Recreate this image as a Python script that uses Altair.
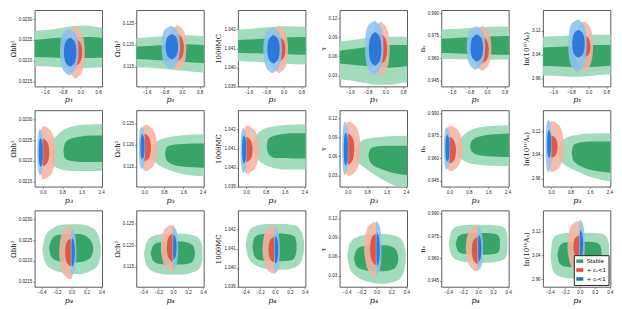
import altair as alt
import pandas as pd

# ---------------- axes ----------------
ROW_XLABEL = ["p₁", "p₃", "p₄"]
ROW_XDOMAIN = [[-2.06, 0.99], [-0.33, 2.45], [-0.49, 0.41]]
ROW_XTICKS = [[-1.6, -0.8, 0.0, 0.8], [0.0, 0.8, 1.6, 2.4], [-0.4, -0.2, 0.0, 0.2, 0.4]]

COL_YLABEL = ["Ωbh²", "Ωch²", "100θMC", "τ", "nₛ", "ln(10¹⁰Aₛ)"]
COL_YDOMAIN = [[0.02137, 0.02322], [0.1103, 0.1280], [1.0390, 1.0430],
               [0.012, 0.133], [0.941, 0.992], [2.934, 3.189]]
COL_YTICKS = [[0.0215, 0.0220, 0.0225, 0.0230], [0.115, 0.120, 0.125],
              [1.039, 1.040, 1.041, 1.042], [0.03, 0.06, 0.09, 0.12],
              [0.945, 0.960, 0.975, 0.990], [2.96, 3.04, 3.12]]
COL_YFORMAT = [".4f", ".3f", ".3f", ".2f", ".3f", ".2f"]

LEGEND_LABELS = ["Stable", "+ cₛ<1", "+ cₜ<1"]

# ---------------- blob contours (cs<1 red, cT<1 blue) ----------------
# relative heights of the levels along each blob (bottom -> top)
T_LEVELS = [0, 0.1, 0.3, 0.5, 0.7, 0.9, 1]

# vertical extent of each blob, per column (lo, hi)
BLUE_OUT_Y = [(0.02164, 0.02278), (0.1143, 0.1244), (1.0397, 1.0421), (0.0295, 0.1162), (0.9520, 0.9813), (2.981, 3.159)]
BLUE_IN_Y = [(0.02185, 0.02256), (0.1166, 0.1225), (1.0402, 1.0417), (0.0448, 0.0983), (0.9576, 0.9759), (3.030, 3.124)]
RED_OUT_Y = [(0.02156, 0.02283), (0.1140, 0.1246), (1.0397, 1.0422), (0.0295, 0.1146), (0.9516, 0.9817), (2.984, 3.153)]
RED_IN_Y = [(0.02187, 0.02253), (0.1162, 0.1225), (1.0403, 1.0416), (0.0473, 0.0958), (0.9565, 0.9742), (3.030, 3.105)]

# left / right edge of each blob at the levels, per row
BLUE_OUT_X = [
    ([-0.52, -0.76, -0.89, -0.92, -0.90, -0.80, -0.48], [-0.52, -0.26, -0.12, -0.08, -0.10, -0.22, -0.48]),
    ([-0.12, -0.19, -0.22, -0.23, -0.22, -0.19, -0.12], [-0.12, -0.02, 0.02, 0.03, 0.02, -0.02, -0.12]),
    ([0.0, -0.006, -0.01, -0.01, -0.01, -0.006, 0.0], [0.005, 0.045, 0.062, 0.067, 0.062, 0.045, 0.005]),
]
BLUE_IN_X = [
    ([-0.46, -0.63, -0.72, -0.74, -0.72, -0.63, -0.46], [-0.46, -0.29, -0.20, -0.18, -0.20, -0.29, -0.46]),
    ([-0.10, -0.14, -0.16, -0.165, -0.16, -0.14, -0.10], [-0.10, -0.03, 0.0, 0.005, 0.0, -0.03, -0.10]),
    ([0.008, 0.003, 0.0, 0.0, 0.0, 0.003, 0.008], [0.008, 0.03, 0.041, 0.045, 0.041, 0.03, 0.008]),
]
RED_OUT_X = [
    ([-0.21, -0.46, -0.59, -0.62, -0.59, -0.46, -0.21], [-0.21, 0.04, 0.17, 0.20, 0.17, 0.04, -0.21]),
    ([-0.02, -0.08, -0.10, -0.10, -0.10, -0.08, -0.02], [0.12, 0.36, 0.49, 0.52, 0.49, 0.36, 0.12]),
    ([-0.04, -0.11, -0.15, -0.165, -0.155, -0.12, -0.04], [0.0, 0.018, 0.024, 0.025, 0.024, 0.018, 0.0]),
]
RED_IN_X = [
    ([-0.21, -0.38, -0.48, -0.50, -0.48, -0.38, -0.21], [-0.21, -0.04, 0.06, 0.08, 0.06, -0.04, -0.21]),
    ([0.0, -0.05, -0.07, -0.07, -0.07, -0.05, 0.0], [0.04, 0.17, 0.25, 0.27, 0.25, 0.17, 0.04]),
    ([-0.02, -0.055, -0.078, -0.085, -0.08, -0.06, -0.02], [0.0, 0.01, 0.014, 0.015, 0.014, 0.01, 0.0]),
]

# ---------------- "Stable" (green) contours ----------------
GX_OUT = [
    [-2.2, -1.6, -1.0, -0.4, 0.2, 0.8, 1.1],
    [0.28, 0.33, 0.45, 0.7, 1.1, 1.7, 2.6],
    [-0.39, -0.36, -0.28, -0.1, 0.1, 0.28, 0.36, 0.39],
]
GX_IN = [
    [-2.2, -1.6, -1.0, -0.4, 0.2, 0.8, 1.1],
    [0.85, 0.9, 1.02, 1.25, 1.6, 2.0, 2.6],
    [-0.30, -0.27, -0.2, -0.05, 0.1, 0.22, 0.27, 0.29],
]

GREEN_OUT_LO_R1 = [
    [0.02187, 0.02186, 0.02184, 0.02183, 0.02182, 0.02183, 0.02184],
    [0.1148, 0.1147, 0.1145, 0.1142, 0.1139, 0.1136, 0.1135],
    [1.04034, 1.04032, 1.04028, 1.04024, 1.04020, 1.04016, 1.04015],
    [0.024, 0.022, 0.018, 0.015, 0.015, 0.018, 0.019],
    [0.9595, 0.9594, 0.9592, 0.9590, 0.9590, 0.9591, 0.9592],
    [2.971, 2.970, 2.968, 2.967, 2.970, 2.974, 2.976],
]
GREEN_OUT_HI_R1 = [
    [0.02272, 0.02274, 0.02278, 0.02283, 0.02285, 0.02281, 0.02280],
    [0.1215, 0.1217, 0.1219, 0.1221, 0.1222, 0.1220, 0.1219],
    [1.04198, 1.04202, 1.04208, 1.04214, 1.04216, 1.04214, 1.04213],
    [0.083, 0.085, 0.088, 0.090, 0.091, 0.091, 0.090],
    [0.9790, 0.9794, 0.9800, 0.9806, 0.9810, 0.9812, 0.9812],
    [3.100, 3.102, 3.104, 3.106, 3.107, 3.107, 3.107],
]
GREEN_IN_LO_R1 = [
    [0.02209, 0.02208, 0.02207, 0.02206, 0.02206, 0.02207, 0.02208],
    [0.1167, 0.1166, 0.1164, 0.1162, 0.1160, 0.1158, 0.1157],
    [1.04076, 1.04075, 1.04073, 1.04071, 1.04069, 1.04067, 1.04066],
    [0.049, 0.047, 0.045, 0.043, 0.042, 0.044, 0.045],
    [0.9634, 0.9632, 0.9630, 0.9627, 0.9625, 0.9623, 0.9623],
    [3.003, 3.002, 3.000, 2.998, 3.000, 3.003, 3.004],
]
GREEN_IN_HI_R1 = [
    [0.02250, 0.02252, 0.02255, 0.02256, 0.02257, 0.02256, 0.02255],
    [0.1195, 0.1197, 0.1199, 0.1200, 0.1201, 0.1200, 0.1199],
    [1.04143, 1.04146, 1.04150, 1.04155, 1.04158, 1.04160, 1.04160],
    [0.068, 0.071, 0.074, 0.077, 0.078, 0.078, 0.077],
    [0.9730, 0.9733, 0.9737, 0.9742, 0.9745, 0.9747, 0.9748],
    [3.064, 3.066, 3.068, 3.071, 3.073, 3.073, 3.073],
]

GREEN_OUT_LO_R2 = [
    [0.02218, 0.02198, 0.02188, 0.02180, 0.02176, 0.02175, 0.02176],
    [0.1183, 0.1170, 0.1160, 0.1150, 0.1140, 0.1131, 0.1127],
    [1.04115, 1.0408, 1.0405, 1.0402, 1.0400, 1.0399, 1.0399],
    [0.066, 0.057, 0.050, 0.042, 0.031, 0.018, 0.005],
    [0.9662, 0.9625, 0.9600, 0.9575, 0.9558, 0.9550, 0.9548],
    [3.051, 3.028, 3.015, 3.000, 2.985, 2.965, 2.950],
]
GREEN_OUT_HI_R2 = [
    [0.02218, 0.02238, 0.02252, 0.02268, 0.02281, 0.02287, 0.02289],
    [0.1183, 0.1195, 0.1205, 0.1213, 0.1219, 0.1223, 0.1225],
    [1.04115, 1.0415, 1.04175, 1.0420, 1.04215, 1.04225, 1.04228],
    [0.066, 0.075, 0.081, 0.087, 0.090, 0.092, 0.093],
    [0.9662, 0.9700, 0.9730, 0.9770, 0.9800, 0.9815, 0.9822],
    [3.051, 3.075, 3.088, 3.100, 3.108, 3.112, 3.113],
]
GREEN_IN_LO_R2 = [
    [0.02225, 0.02208, 0.02202, 0.02199, 0.02197, 0.02197, 0.02197],
    [0.1180, 0.1166, 0.1159, 0.1153, 0.1150, 0.1148, 0.1147],
    [1.0411, 1.0408, 1.0406, 1.0405, 1.0405, 1.04048, 1.04048],
    [0.062, 0.053, 0.047, 0.042, 0.037, 0.033, 0.030],
    [0.9680, 0.9650, 0.9632, 0.9620, 0.9613, 0.9610, 0.9608],
    [3.048, 3.025, 3.013, 3.002, 2.992, 2.985, 2.980],
]
GREEN_IN_HI_R2 = [
    [0.02225, 0.02240, 0.02249, 0.02255, 0.02259, 0.02261, 0.02261],
    [0.1180, 0.1193, 0.1198, 0.1201, 0.1202, 0.1203, 0.1203],
    [1.0411, 1.04145, 1.0416, 1.0417, 1.04178, 1.0418, 1.0418],
    [0.062, 0.070, 0.074, 0.076, 0.077, 0.077, 0.077],
    [0.9680, 0.9710, 0.9730, 0.9745, 0.9757, 0.9763, 0.9766],
    [3.048, 3.070, 3.078, 3.083, 3.085, 3.085, 3.085],
]

GREEN_OUT_LO_R3 = [
    [0.02227, 0.02200, 0.02182, 0.02171, 0.02168, 0.02178, 0.02192, 0.02215],
    [0.1180, 0.1155, 0.1140, 0.1132, 0.1131, 0.1138, 0.1148, 0.1165],
    [1.0412, 1.0406, 1.0402, 1.03995, 1.0399, 1.04005, 1.0404, 1.0409],
    [0.062, 0.042, 0.030, 0.020, 0.017, 0.022, 0.035, 0.052],
    [0.9701, 0.9625, 0.9590, 0.9573, 0.9572, 0.9582, 0.9600, 0.9640],
    [3.036, 2.990, 2.970, 2.962, 2.961, 2.966, 2.978, 3.000],
]
GREEN_OUT_HI_R3 = [
    [0.02227, 0.02255, 0.02276, 0.02288, 0.02289, 0.02280, 0.02262, 0.02235],
    [0.1180, 0.1205, 0.1220, 0.1226, 0.1226, 0.1222, 0.1212, 0.1195],
    [1.0412, 1.0418, 1.04215, 1.0423, 1.0423, 1.0422, 1.04185, 1.0414],
    [0.062, 0.080, 0.090, 0.095, 0.096, 0.092, 0.082, 0.066],
    [0.9701, 0.9780, 0.9815, 0.9826, 0.9826, 0.9818, 0.9800, 0.9760],
    [3.036, 3.095, 3.110, 3.115, 3.115, 3.112, 3.100, 3.075],
]
GREEN_IN_LO_R3 = [
    [0.02231, 0.02210, 0.02201, 0.02196, 0.02197, 0.02203, 0.02212, 0.02226],
    [0.1181, 0.1164, 0.1157, 0.1155, 0.1155, 0.1158, 0.1165, 0.1177],
    [1.0411, 1.0406, 1.0404, 1.04035, 1.04035, 1.0404, 1.0406, 1.0409],
    [0.058, 0.045, 0.040, 0.037, 0.037, 0.040, 0.046, 0.054],
    [0.9700, 0.9650, 0.9632, 0.9625, 0.9625, 0.9630, 0.9642, 0.9665],
    [3.040, 3.012, 3.002, 2.999, 2.999, 3.002, 3.010, 3.025],
]
GREEN_IN_HI_R3 = [
    [0.02231, 0.02250, 0.02262, 0.02266, 0.02265, 0.02256, 0.02245, 0.02232],
    [0.1181, 0.1198, 0.1206, 0.1208, 0.1208, 0.1204, 0.1197, 0.1185],
    [1.0411, 1.0416, 1.04175, 1.0418, 1.0418, 1.04172, 1.0416, 1.0413],
    [0.058, 0.070, 0.076, 0.078, 0.078, 0.075, 0.069, 0.060],
    [0.9700, 0.9745, 0.9764, 0.9770, 0.9770, 0.9765, 0.9752, 0.9730],
    [3.040, 3.070, 3.082, 3.085, 3.085, 3.082, 3.073, 3.055],
]

GREEN_OUT_LO = [GREEN_OUT_LO_R1, GREEN_OUT_LO_R2, GREEN_OUT_LO_R3]
GREEN_OUT_HI = [GREEN_OUT_HI_R1, GREEN_OUT_HI_R2, GREEN_OUT_HI_R3]
GREEN_IN_LO = [GREEN_IN_LO_R1, GREEN_IN_LO_R2, GREEN_IN_LO_R3]
GREEN_IN_HI = [GREEN_IN_HI_R1, GREEN_IN_HI_R2, GREEN_IN_HI_R3]

# ---------------- styling ----------------
GREEN_LIGHT, GREEN_DARK = "#a3dbbd", "#38a468"
RED_LIGHT, RED_DARK = "#f5b3a0", "#de4a39"
BLUE_LIGHT, BLUE_DARK = "#8cc3ee", "#1f6ed8"
W, H = 68, 77


def panel(r, c):
    xs = alt.Scale(domain=ROW_XDOMAIN[r], nice=False, zero=False)
    ys = alt.Scale(domain=COL_YDOMAIN[c], nice=False, zero=False)
    xa = alt.Axis(values=ROW_XTICKS[r], format=".1f", title=ROW_XLABEL[r],
                  titleFontStyle="italic", titleFontSize=8)
    ya = alt.Axis(values=COL_YTICKS[c], format=COL_YFORMAT[c], title=COL_YLABEL[c])
    layers = []
    for gx, lo, hi, color in [
        (GX_OUT[r], GREEN_OUT_LO[r][c], GREEN_OUT_HI[r][c], GREEN_LIGHT),
        (GX_IN[r], GREEN_IN_LO[r][c], GREEN_IN_HI[r][c], GREEN_DARK),
    ]:
        df = pd.DataFrame({"gx": gx, "lo": lo, "hi": hi})
        layers.append(
            alt.Chart(df).mark_area(color=color, interpolate="monotone", clip=True).encode(
                x=alt.X("gx:Q", scale=xs, axis=xa),
                y=alt.Y("lo:Q", scale=ys, axis=ya),
                y2="hi:Q",
            )
        )
    for prof, ext, color in [
        (RED_OUT_X, RED_OUT_Y, RED_LIGHT),
        (RED_IN_X, RED_IN_Y, RED_DARK),
        (BLUE_OUT_X, BLUE_OUT_Y, BLUE_LIGHT),
        (BLUE_IN_X, BLUE_IN_Y, BLUE_DARK),
    ]:
        xl, xr = prof[r]
        lo, hi = ext[c]
        df = pd.DataFrame({"by": [lo + t * (hi - lo) for t in T_LEVELS], "xl": xl, "xr": xr})
        layers.append(
            alt.Chart(df).mark_area(orient="horizontal", color=color, opacity=0.88,
                                    interpolate="monotone", clip=True).encode(
                y=alt.Y("by:Q", scale=ys, axis=ya),
                x=alt.X("xl:Q", scale=xs, axis=xa),
                x2="xr:Q",
            )
        )
    if r == 2 and c == 5:
        leg = pd.DataFrame({"gx": [5.0, 5.0, 5.0], "lo": [3.0, 3.0, 3.0], "series": LEGEND_LABELS})
        layers.append(
            alt.Chart(leg).mark_point(filled=True, opacity=1, clip=True).encode(
                x=alt.X("gx:Q", scale=xs, axis=xa),
                y=alt.Y("lo:Q", scale=ys, axis=ya),
                color=alt.Color("series:N",
                                scale=alt.Scale(domain=LEGEND_LABELS, range=[GREEN_DARK, RED_DARK, BLUE_DARK]),
                                legend=alt.Legend(title=None, orient="bottom-right", offset=2,
                                                  fillColor="white", strokeColor="#222", padding=2,
                                                  symbolType="M-1,-0.5H1V0.5H-1Z", symbolSize=50,
                                                  symbolStrokeWidth=0, symbolOpacity=1,
                                                  labelFontSize=5.5, labelFont="DejaVu Sans",
                                                  rowPadding=1, labelOffset=3)),
            )
        )
    return alt.layer(*layers).properties(width=W, height=H)


panels = [panel(r, c) for r in range(3) for c in range(6)]

chart = alt.concat(*panels, columns=6, spacing={"row": 24, "column": 34.5}, bounds="flush").resolve_scale(
    color="independent"
).resolve_legend(color="independent").configure(
    padding=0
).configure_view(stroke="#333", strokeWidth=0.8).configure_axis(
    grid=False, domain=False, labelFont="Liberation Sans", labelFontSize=4.5, labelColor="#222",
    tickSize=2, tickWidth=0.5, tickColor="#333", labelPadding=1, labelFlush=False,
    labelOverlap=False, titleFont="DejaVu Serif", titleFontSize=7, titleFontWeight="normal",
    titlePadding=2, titleColor="#111",
)

chart.save("out.html", embed_options={"renderer": "svg", "actions": False})
